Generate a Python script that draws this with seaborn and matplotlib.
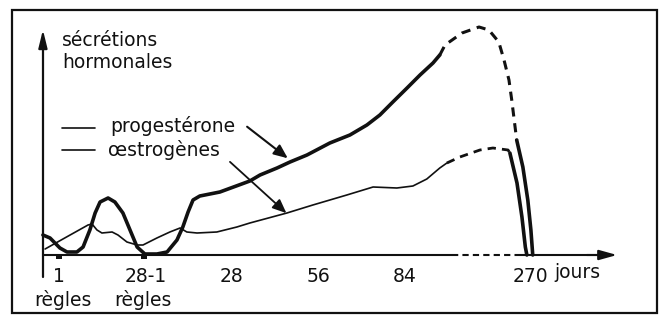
import numpy as np
import pandas as pd
import matplotlib
matplotlib.use("Agg")
import matplotlib.pyplot as plt
import seaborn as sns

# ---- data (x: days on compressed axis, y: relative secretion level) ----
prog_days_a = [-5.2, -2.9, 0.3, 2.6, 5.8, 7.8, 10.0, 11.7, 13.3, 15.9, 18.1, 20.7, 23.0, 25.3,
               27.8, 31.7, 35.0, 38.2, 40.1, 41.8, 43.4, 45.6, 52.1, 61.8, 65.1, 70.6, 74.8,
               80.3, 87.7, 94.2, 99.7, 103.9, 108.1, 112.7, 116.9, 121.1, 123.3]
prog_lvl_a = [20, 17, 7, 3, 3, 8, 25, 42, 53, 57, 53, 42, 25, 8,
              1, 1, 3, 15, 28, 43, 55, 59, 63, 74, 80, 87, 93,
              100, 112, 120, 130, 140, 153, 167, 180, 192, 200]
prog_days_dash = [123.3, 125.0, 130.5, 136.0, 139.2, 142.4, 144.1, 145.7, 146.6, 147.6, 148.2]
prog_lvl_dash = [200, 210, 222, 228, 225, 213, 195, 175, 155, 130, 115]
prog_days_drop = [148.2, 150.2, 151.8, 152.8, 153.4]
prog_lvl_drop = [115, 88, 55, 25, 0]

estr_days_a = [-4.5, 3.6, 9.4, 10.7, 12.3, 13.9, 17.2, 19.1, 22.0, 25.3, 27.2, 31.7, 35.9,
               39.2, 41.4, 44.7, 51.1, 57.6, 61.8, 73.8, 82.2, 93.2, 101.7, 109.4, 114.6,
               119.1, 123.3, 125.6]
estr_lvl_a = [6, 20, 30, 31, 25, 22, 23, 20, 13, 10, 10, 17, 23,
              27, 23, 22, 23, 28, 32, 42, 50, 60, 68, 67, 69,
              76, 87, 92]
estr_days_dash = [125.6, 129.8, 136.3, 140.5, 145.4, 146.0]
estr_lvl_dash = [92, 98, 105, 107, 105, 102]
estr_days_drop = [146.0, 148.3, 149.9, 151.0, 151.5]
estr_lvl_drop = [102, 72, 38, 8, 0]

tick_pos = [0, 28, 56, 84, 112, 152.5]
tick_labels = ["1", "28-1", "28", "56", "84", "270"]

sns.set_theme(style="white")
plt.rcParams["font.family"] = ["DejaVu Sans"]
FS = 13.5
INK = "#111111"

fig = plt.figure(figsize=(6.64, 3.19), dpi=100)
ax = fig.add_axes([0, 0, 1, 1])
ax.set_xlim(-19.1, 195.9)
ax.set_ylim(-64, 255)
for s in ax.spines.values():
    s.set_linewidth(0)
ax.spines["bottom"].set_position(("data", 0))
ax.set_yticks([])
ax.set_xticks(tick_pos)
ax.set_xticklabels(tick_labels, fontsize=FS, color=INK)
ax.tick_params(axis="x", direction="out", length=4, width=1.5, color=INK, pad=5)

def seg(days, lvl, lw, ls="-"):
    df = pd.DataFrame({"d": days, "v": lvl})
    sns.lineplot(data=df, x="d", y="v", ax=ax, sort=False, estimator=None,
                 color=INK, lw=lw, linestyle=ls, solid_capstyle="round",
                 solid_joinstyle="round", dash_capstyle="butt")

THICK = 2.6
THIN = 1.2
seg(prog_days_a, prog_lvl_a, THICK)
seg(prog_days_dash, prog_lvl_dash, 2.2, (0, (3.0, 2.2)))
seg(prog_days_drop, prog_lvl_drop, THICK)
seg(estr_days_a, estr_lvl_a, THIN)
seg(estr_days_dash, estr_lvl_dash, 2.0, (0, (3.0, 2.2)))
seg(estr_days_drop, estr_lvl_drop, THICK)
ax.set_xlabel("")
ax.set_ylabel("")

# axes with arrows
ax.plot([-5.2, 127.2], [0, 0], color=INK, lw=1.5)
ax.plot([127.2, 149.2], [0, 0], color=INK, lw=1.5, linestyle=(0, (3, 2)))
ax.plot([149.2, 178], [0, 0], color=INK, lw=1.5)
ax.annotate("", xy=(181.6, 0), xytext=(170, 0),
            arrowprops=dict(arrowstyle="-|>,head_length=0.9,head_width=0.25", color=INK, lw=1.5))
ax.plot([-5.2, -5.2], [-22, 215], color=INK, lw=1.6)
ax.annotate("", xy=(-5.2, 228), xytext=(-5.2, 205),
            arrowprops=dict(arrowstyle="-|>,head_length=0.9,head_width=0.22", color=INK, lw=1.5))

# menstruation marks
for xm in [0, 27.5]:
    ax.add_patch(plt.Rectangle((xm - 1.0, -3.5), 2.0, 3.5, color=INK, lw=0))

# border
ax.add_patch(plt.Rectangle((-15.2, -58), 208.8, 303, fill=False, edgecolor=INK, lw=1.6))

# texts
ax.text(1.0, 215, "sécrétions", fontsize=FS, color=INK, va="center", ha="left")
ax.text(1.0, 192, "hormonales", fontsize=FS, color=INK, va="center", ha="left")
ax.plot([1.0, 11.7], [127, 127], color=INK, lw=1.2)
ax.plot([1.0, 11.7], [105, 105], color=INK, lw=1.2)
ax.text(16.5, 129, "progestérone", fontsize=FS, color=INK, va="center", ha="left")
ax.text(15.9, 105, "œstrogènes", fontsize=FS, color=INK, va="center", ha="left")
ax.text(160.5, -18, "jours", fontsize=FS, color=INK, va="center", ha="left")
ax.text(1.3, -45, "règles", fontsize=FS, color=INK, va="center", ha="center")
ax.text(27.2, -45, "règles", fontsize=FS, color=INK, va="center", ha="center")

ax.annotate("", xy=(74.8, 95), xytext=(60.2, 130),
            arrowprops=dict(arrowstyle="-|>,head_length=0.7,head_width=0.3", color=INK, lw=1.5))
ax.annotate("", xy=(74.3, 40), xytext=(54.7, 95),
            arrowprops=dict(arrowstyle="-|>,head_length=0.7,head_width=0.3", color=INK, lw=1.3))

fig.savefig("out.png", dpi=100, facecolor="white")
